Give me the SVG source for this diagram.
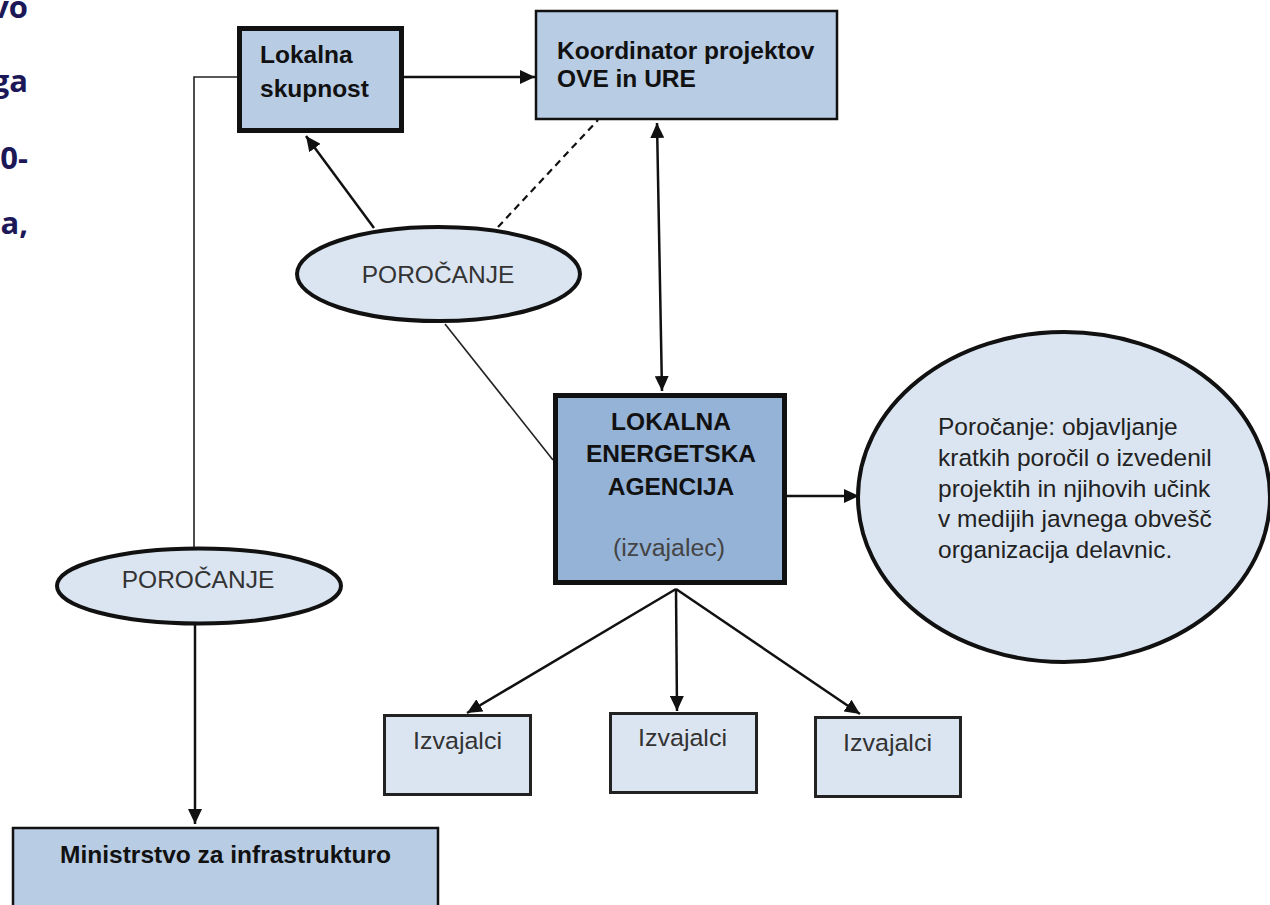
<svg xmlns="http://www.w3.org/2000/svg" width="1270" height="905" viewBox="0 0 1270 905">
<style>
.box{fill:#b8cce4;stroke:#111;stroke-width:2.5}
.thick{stroke-width:5}
.lea{fill:#95b3d7;stroke:#111;stroke-width:5}
.ell{fill:#dbe5f1;stroke:#111;stroke-width:4}
.small{fill:#dbe5f1;stroke:#222;stroke-width:3}
.b{font-family:"Liberation Sans",Arial,sans-serif;font-weight:bold;font-size:24.5px;fill:#111}
.r{font-family:"Liberation Sans",Arial,sans-serif;font-size:24.5px;fill:#333}
.side{font-family:"Open Sans","DejaVu Sans",sans-serif;font-weight:bold;font-size:31px;fill:#1c1858}
.c{fill:none;stroke:#111;stroke-width:2.5}
.thin{fill:none;stroke:#222;stroke-width:1.6}
</style>
<defs>
<marker id="ah" markerUnits="userSpaceOnUse" markerWidth="16" markerHeight="14" refX="15" refY="7" orient="auto-start-reverse">
<path d="M0,0 L15,7 L0,14 z" fill="#111"/>
</marker>
</defs>
<g id="sidetext">
<text class="side" x="28" y="18" text-anchor="end">vo</text>
<text class="side" x="28" y="92" text-anchor="end">ga</text>
<text class="side" x="28" y="169" text-anchor="end">0-</text>
<text class="side" x="28" y="234" text-anchor="end">a,</text>
</g>
<g id="connectors">
<line class="c" x1="404" y1="77" x2="535" y2="77" marker-end="url(#ah)"/>
<polyline class="thin" points="237,77 194,77 194,548"/>
<line class="c" x1="195" y1="624" x2="195" y2="824" marker-end="url(#ah)"/>
<line class="c" x1="374" y1="228" x2="306" y2="136" marker-end="url(#ah)"/>
<line class="c" x1="498" y1="227" x2="598" y2="120" stroke-dasharray="7,5" style="stroke-width:2.2"/>
<line class="c" x1="657" y1="123" x2="662" y2="391" marker-start="url(#ah)" marker-end="url(#ah)"/>
<line class="thin" x1="445" y1="324" x2="553" y2="460"/>
<line class="c" x1="787" y1="496" x2="859" y2="496" marker-end="url(#ah)"/>
<line class="c" x1="676" y1="589" x2="467" y2="713" marker-end="url(#ah)"/>
<line class="c" x1="676" y1="589" x2="677" y2="711" marker-end="url(#ah)"/>
<line class="c" x1="676" y1="589" x2="860" y2="714" marker-end="url(#ah)"/>
</g>
<g id="lokalna-skupnost">
<rect class="box thick" x="239.5" y="28.5" width="162" height="102"/>
<text class="b" x="260" y="63">Lokalna</text>
<text class="b" x="260" y="97">skupnost</text>
</g>
<g id="koordinator">
<rect class="box" x="536" y="11" width="301" height="108"/>
<text class="b" x="557" y="59">Koordinator projektov</text>
<text class="b" x="557" y="87">OVE in URE</text>
</g>
<g id="porocanje-1">
<ellipse class="ell" cx="438.5" cy="274" rx="141.5" ry="47"/>
<text class="r" x="438" y="283" text-anchor="middle">POROČANJE</text>
</g>
<g id="porocanje-2">
<ellipse class="ell" cx="199" cy="586" rx="142" ry="37.5"/>
<text class="r" x="198" y="588" text-anchor="middle">POROČANJE</text>
</g>
<g id="lea">
<rect class="lea" x="555.5" y="395.5" width="229" height="187"/>
<text class="b" x="671" y="430" text-anchor="middle">LOKALNA</text>
<text class="b" x="671" y="462" text-anchor="middle">ENERGETSKA</text>
<text class="b" x="671" y="495" text-anchor="middle">AGENCIJA</text>
<text class="r" x="669" y="556" text-anchor="middle" textLength="112" lengthAdjust="spacingAndGlyphs" style="font-size:23px;fill:#444">(izvajalec)</text>
</g>
<g id="porocanje-opis">
<ellipse class="ell" cx="1064" cy="497" rx="206" ry="165"/>
<text class="r" style="fill:#222" x="938" y="435">Poročanje: objavljanje</text>
<text class="r" style="fill:#222" x="938" y="466">kratkih poročil o izvedenil</text>
<text class="r" style="fill:#222" x="938" y="497">projektih in njihovih učink</text>
<text class="r" style="fill:#222" x="938" y="527">v medijih javnega obvešč</text>
<text class="r" style="fill:#222" x="938" y="558">organizacija delavnic.</text>
</g>
<g id="izvajalci-1">
<rect class="small" x="384.5" y="715.5" width="146" height="79"/>
<text class="r" x="457.5" y="749" text-anchor="middle" textLength="89" lengthAdjust="spacingAndGlyphs">Izvajalci</text>
</g>
<g id="izvajalci-2">
<rect class="small" x="610.5" y="713.5" width="146" height="79"/>
<text class="r" x="682.5" y="746" text-anchor="middle" textLength="89" lengthAdjust="spacingAndGlyphs">Izvajalci</text>
</g>
<g id="izvajalci-3">
<rect class="small" x="815.5" y="717.5" width="145" height="79"/>
<text class="r" x="887.5" y="751" text-anchor="middle" textLength="89" lengthAdjust="spacingAndGlyphs">Izvajalci</text>
</g>
<g id="ministrstvo">
<rect class="box" x="13" y="828" width="425" height="90"/>
<text class="b" x="225.5" y="863" text-anchor="middle">Ministrstvo za infrastrukturo</text>
</g>
</svg>
